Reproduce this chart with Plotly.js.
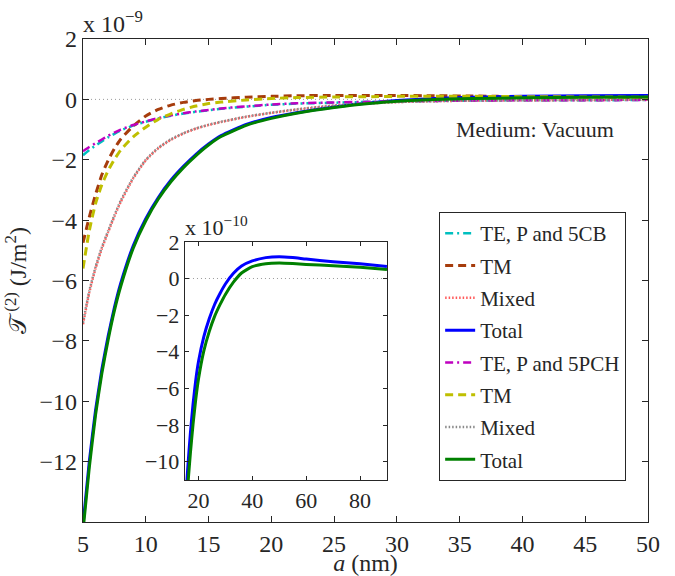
<!DOCTYPE html>
<html>
<head>
<meta charset="utf-8">
<script src="https://cdn.plot.ly/plotly-3.0.1.min.js"></script>
<style>html,body{margin:0;padding:0;background:#fff;}#chart{width:675px;height:576px;}
#chart svg text, #chart svg tspan { font-family: 'Liberation Serif', 'Times New Roman', serif !important; }</style>
</head>
<body>
<div id="chart"></div>
<script>
// Main panel, values in units of 1e-9 J/m^2
const aMain = [5, 5.5, 6, 6.5, 7, 7.5, 8, 9, 10, 11, 12, 13, 14, 15, 16, 18, 20, 22, 25, 28, 30, 33, 36, 40, 45, 50];
const te5CB   = [-1.85, -1.68, -1.53, -1.39, -1.26, -1.14, -1.03, -0.87, -0.74, -0.63, -0.54, -0.47, -0.41, -0.36, -0.31, -0.24, -0.18, -0.14, -0.11, -0.08, -0.07, -0.05, -0.04, -0.03, -0.03, -0.02];
const tm5CB   = [-4.75, -3.9, -3.15, -2.5, -2.02, -1.63, -1.32, -0.88, -0.55, -0.33, -0.19, -0.1, -0.04, 0.0, 0.03, 0.07, 0.1, 0.12, 0.13, 0.13, 0.13, 0.12, 0.11, 0.09, 0.08, 0.06];
const mix5CB  = [-7.45, -6.4, -5.6, -4.95, -4.4, -3.88, -3.4, -2.62, -2.02, -1.62, -1.34, -1.13, -0.97, -0.85, -0.75, -0.58, -0.45, -0.34, -0.21, -0.13, -0.09, -0.06, -0.04, -0.03, -0.02, -0.01];
const tot5CB  = [-14.1, -12.0, -10.3, -8.95, -7.85, -6.9, -6.1, -4.85, -3.95, -3.25, -2.68, -2.22, -1.82, -1.48, -1.2, -0.83, -0.6, -0.44, -0.25, -0.11, -0.04, 0.03, 0.07, 0.1, 0.12, 0.13];
const te5PCH  = [-1.72, -1.58, -1.45, -1.33, -1.21, -1.1, -1.0, -0.85, -0.73, -0.62, -0.53, -0.46, -0.4, -0.35, -0.3, -0.23, -0.17, -0.13, -0.1, -0.08, -0.06, -0.05, -0.04, -0.03, -0.03, -0.02];
const tm5PCH  = [-5.6, -4.35, -3.45, -2.83, -2.36, -1.99, -1.68, -1.24, -0.92, -0.66, -0.48, -0.33, -0.22, -0.14, -0.09, -0.02, 0.03, 0.06, 0.08, 0.09, 0.1, 0.1, 0.1, 0.09, 0.08, 0.07];
const mix5PCH = [-7.4, -6.35, -5.55, -4.9, -4.36, -3.84, -3.36, -2.59, -2.0, -1.6, -1.32, -1.12, -0.96, -0.84, -0.74, -0.57, -0.44, -0.33, -0.2, -0.12, -0.09, -0.06, -0.04, -0.03, -0.02, -0.01];
const tot5PCH = [-14.3, -12.2, -10.45, -9.08, -7.97, -7.0, -6.2, -4.93, -4.02, -3.3, -2.73, -2.26, -1.86, -1.51, -1.23, -0.86, -0.63, -0.46, -0.27, -0.13, -0.06, 0.0, 0.03, 0.05, 0.07, 0.08];

// Inset, values in units of 1e-10 J/m^2
const aInset = [15, 16, 17, 18, 19, 20, 22, 24, 26, 28, 30, 33, 36, 40, 45, 50, 55, 60, 70, 80, 90];
const totInset5CB  = [-12.8, -10.4, -8.45, -6.85, -5.55, -4.55, -3.18, -2.2, -1.42, -0.82, -0.3, 0.28, 0.68, 0.96, 1.14, 1.19, 1.14, 1.06, 0.92, 0.8, 0.66];
const totInset5PCH = [-13.6, -11.4, -9.55, -7.95, -6.6, -5.5, -3.95, -2.9, -2.07, -1.43, -0.87, -0.2, 0.3, 0.65, 0.81, 0.85, 0.82, 0.77, 0.7, 0.61, 0.49];

const names = ['TE, P and 5CB', 'TM', 'Mixed', 'Total', 'TE, P and 5PCH', 'TM', 'Mixed', 'Total'];
const mainXTicks = [5, 10, 15, 20, 25, 30, 35, 40, 45, 50];
const mainYTicks = [-12, -10, -8, -6, -4, -2, 0, 2];
const insetXTicks = [20, 40, 60, 80];
const insetYTicks = [-10, -8, -6, -4, -2, 0, 2];

const FONT = 'Times New Roman';
const TXT = '#262626';
const DASH = '8px,5px';
const DASHDOT = '8px,4px,2px,4px';
const DOT = '1.5px,2px';

const styles = [
  {color: '#00bfbf', dash: DASHDOT, width: 2.5},
  {color: '#a63c0c', dash: DASH, width: 3},
  {color: '#ff5a5a', dash: DOT, width: 2.5},
  {color: '#0000ff', dash: 'solid', width: 3},
  {color: '#bf00bf', dash: DASHDOT, width: 2.5},
  {color: '#bfbf00', dash: DASH, width: 3},
  {color: '#8a8a8a', dash: DOT, width: 2.5},
  {color: '#008000', dash: 'solid', width: 3}
];
const series = [te5CB, tm5CB, mix5CB, tot5CB, te5PCH, tm5PCH, mix5PCH, tot5PCH];

const traces = series.map((ys, i) => ({
  x: aMain, y: ys, type: 'scatter', mode: 'lines', name: names[i],
  legendgroup: 'g' + i, line: {color: styles[i].color, dash: styles[i].dash, width: styles[i].width, shape: 'spline', smoothing: 0.5},
  xaxis: 'x', yaxis: 'y', hoverinfo: 'skip'
}));
traces.push({x: aInset, y: totInset5CB, type: 'scatter', mode: 'lines', showlegend: false,
  line: {color: '#0000ff', width: 3, shape: 'spline', smoothing: 0.5}, xaxis: 'x2', yaxis: 'y2', hoverinfo: 'skip'});
traces.push({x: aInset, y: totInset5PCH, type: 'scatter', mode: 'lines', showlegend: false,
  line: {color: '#008000', width: 3, shape: 'spline', smoothing: 0.5}, xaxis: 'x2', yaxis: 'y2', hoverinfo: 'skip'});

const axCommon = {showline: true, linecolor: TXT, linewidth: 1.2, mirror: 'ticks', ticks: 'inside',
  ticklen: 6, tickcolor: TXT, tickwidth: 1, showgrid: false, zeroline: false};

const layout = {
  width: 675, height: 576,
  margin: {l: 83, r: 27, t: 39, b: 54},
  paper_bgcolor: '#fff', plot_bgcolor: '#fff',
  font: {family: FONT, size: 22, color: TXT},
  showlegend: true,
  legend: {x: 0.630, y: 0.642, xanchor: 'left', yanchor: 'top', bgcolor: '#fff',
    bordercolor: TXT, borderwidth: 1.2, font: {size: 21}, tracegroupgap: 2},
  xaxis: Object.assign({}, axCommon, {domain: [0, 1], range: [5, 50], tickvals: mainXTicks,
    tickfont: {size: 24}, title: {text: '<i>a</i> (nm)', font: {size: 24}, standoff: 0}, anchor: 'y'}),
  yaxis: Object.assign({}, axCommon, {domain: [0, 1], range: [-14, 2], tickvals: mainYTicks,
    tickfont: {size: 24}, title: {text: '𝒯<sup> (2)</sup> (J/m<sup>2</sup>)', font: {size: 24}, standoff: 6}, anchor: 'x'}),
  xaxis2: Object.assign({}, axCommon, {domain: [0.1805, 0.538], range: [15, 90], tickvals: insetXTicks,
    tickfont: {size: 22}, anchor: 'y2', ticklen: 4}),
  yaxis2: Object.assign({}, axCommon, {domain: [0.087, 0.58], range: [-11, 2], tickvals: insetYTicks,
    tickfont: {size: 22}, anchor: 'x2', ticklen: 4}),
  shapes: [
    {type: 'line', xref: 'x', yref: 'y', x0: 5, x1: 50, y0: 0, y1: 0, layer: 'below',
      line: {color: '#9a9a9a', width: 1, dash: '1px,3px'}},
    {type: 'line', xref: 'x2', yref: 'y2', x0: 15, x1: 90, y0: 0, y1: 0, layer: 'below',
      line: {color: '#9a9a9a', width: 1, dash: '1px,3px'}}
  ],
  annotations: [
    {xref: 'paper', yref: 'paper', x: 0, y: 1, xanchor: 'left', yanchor: 'bottom', showarrow: false,
      text: 'x 10<sup>−9</sup>', font: {size: 24}, xshift: -2},
    {xref: 'paper', yref: 'paper', x: 0.1805, y: 0.58, xanchor: 'left', yanchor: 'bottom', showarrow: false,
      text: 'x 10<sup>−10</sup>', font: {size: 22}, xshift: -2},
    {xref: 'x', yref: 'y', x: 41, y: -1, xanchor: 'center', yanchor: 'middle', showarrow: false,
      text: 'Medium: Vacuum', font: {size: 22}}
  ]
};

Plotly.newPlot('chart', traces, layout, {staticPlot: true, displayModeBar: false});
</script>
</body>
</html>
